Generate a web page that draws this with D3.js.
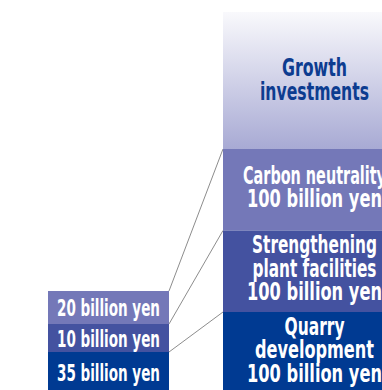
<!DOCTYPE html>
<html>
<head>
<meta charset="utf-8">
<script src="https://cdn.jsdelivr.net/npm/d3@7"></script>
<style>
  body { margin: 0; background: #fff; }
  svg { display: block; }
  text { font-family: "Liberation Sans Narrow", "DejaVu Sans Condensed", "Roboto", sans-serif; font-weight: bold; }
</style>
</head>
<body>
<div id="chart"></div>
<script>
//----------------------------
// Data
//----------------------------

var leftValues = [20, 10, 35];
var leftLabels = ["20 billion yen", "10 billion yen", "35 billion yen"];

var rightValues = [100, 100, 100];
var rightLabels = [
    ["Carbon neutrality", "100 billion yen"],
    ["Strengthening", "plant facilities", "100 billion yen"],
    ["Quarry", "development", "100 billion yen"]
];
var headerLabel = ["Growth", "investments"];

var colors = ["#7478b8", "#4452a0", "#003a92"];

//----------------------------
// Setup
//----------------------------

var w = 382, h = 390;

var svg = d3.select("#chart")
    .append("svg")
    .attr("width", w)
    .attr("height", h);

var defs = svg.append("defs");
var grad = defs.append("linearGradient")
    .attr("id", "hdr")
    .attr("x1", 0).attr("y1", 0)
    .attr("x2", 0).attr("y2", 1);
grad.append("stop").attr("offset", "0%").attr("stop-color", "#f9f9fc");
grad.append("stop").attr("offset", "100%").attr("stop-color", "#a8aad4");

// right stack: value -> y (stacked from the bottom)
var rightTotal = d3.sum(rightValues);
var yRight = d3.scaleLinear()
    .domain([0, rightTotal])
    .range([393.5, 149]);

// left stack: segment heights (not drawn to scale in the original)
var hLeft = d3.scaleLinear()
    .domain([10, 20])
    .range([28, 33]);

var rightX = 223, rightW = 182;
var leftX = 48, leftW = 121;

// right segments, top-down order: carbon, strengthening, quarry
var rightSegs = [];
var acc = rightTotal;
rightValues.forEach(function (v, i) {
    rightSegs.push({ y0: yRight(acc), y1: yRight(acc - v), i: i });
    acc -= v;
});

var leftSegs = [];
var ly = 291;
leftValues.forEach(function (v, i) {
    var hh = hLeft(v);
    leftSegs.push({ y0: ly, y1: ly + hh, i: i });
    ly += hh;
});

//----------------------------
// Connector lines
//----------------------------

svg.append("g")
    .selectAll("line")
    .data(d3.range(leftSegs.length))
    .enter()
    .append("line")
    .attr("x1", leftX + leftW)
    .attr("y1", function (i) { return leftSegs[i].y0; })
    .attr("x2", rightX)
    .attr("y2", function (i) { return rightSegs[i].y0; })
    .attr("stroke", "#6f6f6f")
    .attr("stroke-width", 0.8);

//----------------------------
// Right bar
//----------------------------

var headerTop = 12;
svg.append("rect")
    .attr("x", rightX)
    .attr("y", headerTop)
    .attr("width", rightW)
    .attr("height", yRight(rightTotal) - headerTop)
    .attr("fill", "url(#hdr)");

var lh = 23.5;
var cx = rightX + 91.5;

svg.append("g")
    .selectAll("text")
    .data(headerLabel)
    .enter()
    .append("text")
    .attr("x", cx)
    .attr("y", function (d, j) { return 88 + (j - 0.5) * 24; })
    .attr("text-anchor", "middle")
    .attr("font-size", 24)
    .attr("fill", "#0d3c90")
    .attr("textLength", function (d) { return d === "Growth" ? 65 : 109; })
    .attr("lengthAdjust", "spacingAndGlyphs")
    .text(function (d) { return d; });

svg.append("g")
    .selectAll("rect")
    .data(rightSegs)
    .enter()
    .append("rect")
    .attr("x", rightX)
    .attr("y", function (d) { return d.y0; })
    .attr("width", rightW)
    .attr("height", function (d) { return d.y1 - d.y0; })
    .attr("fill", function (d) { return colors[d.i]; });

var rightLens = {
    "Carbon neutrality": 143,
    "100 billion yen": 135,
    "Strengthening": 125,
    "plant facilities": 124,
    "Quarry": 60,
    "development": 119
};

rightSegs.forEach(function (seg) {
    var lines = rightLabels[seg.i];
    var mid = (seg.y0 + seg.y1) / 2 + 5.5;
    svg.append("g")
        .selectAll("text")
        .data(lines)
        .enter()
        .append("text")
        .attr("x", cx)
        .attr("y", function (d, j) { return mid + (j - (lines.length - 1) / 2) * lh; })
        .attr("text-anchor", "middle")
        .attr("font-size", 24)
        .attr("fill", "#fff")
        .attr("textLength", function (d) { return rightLens[d]; })
        .attr("lengthAdjust", "spacingAndGlyphs")
        .text(function (d) { return d; });
});

//----------------------------
// Left bar
//----------------------------

svg.append("g")
    .selectAll("rect")
    .data(leftSegs)
    .enter()
    .append("rect")
    .attr("x", leftX)
    .attr("y", function (d) { return d.y0; })
    .attr("width", leftW)
    .attr("height", function (d) { return d.y1 - d.y0; })
    .attr("fill", function (d) { return colors[d.i]; });

svg.append("g")
    .selectAll("text")
    .data(leftSegs)
    .enter()
    .append("text")
    .attr("x", leftX + leftW / 2)
    .attr("y", function (d) { return Math.min((d.y0 + d.y1) / 2, 372) + 8.5; })
    .attr("text-anchor", "middle")
    .attr("font-size", 23)
    .attr("fill", "#fff")
    .attr("textLength", 103)
    .attr("lengthAdjust", "spacingAndGlyphs")
    .text(function (d) { return leftLabels[d.i]; });
</script>
</body>
</html>
